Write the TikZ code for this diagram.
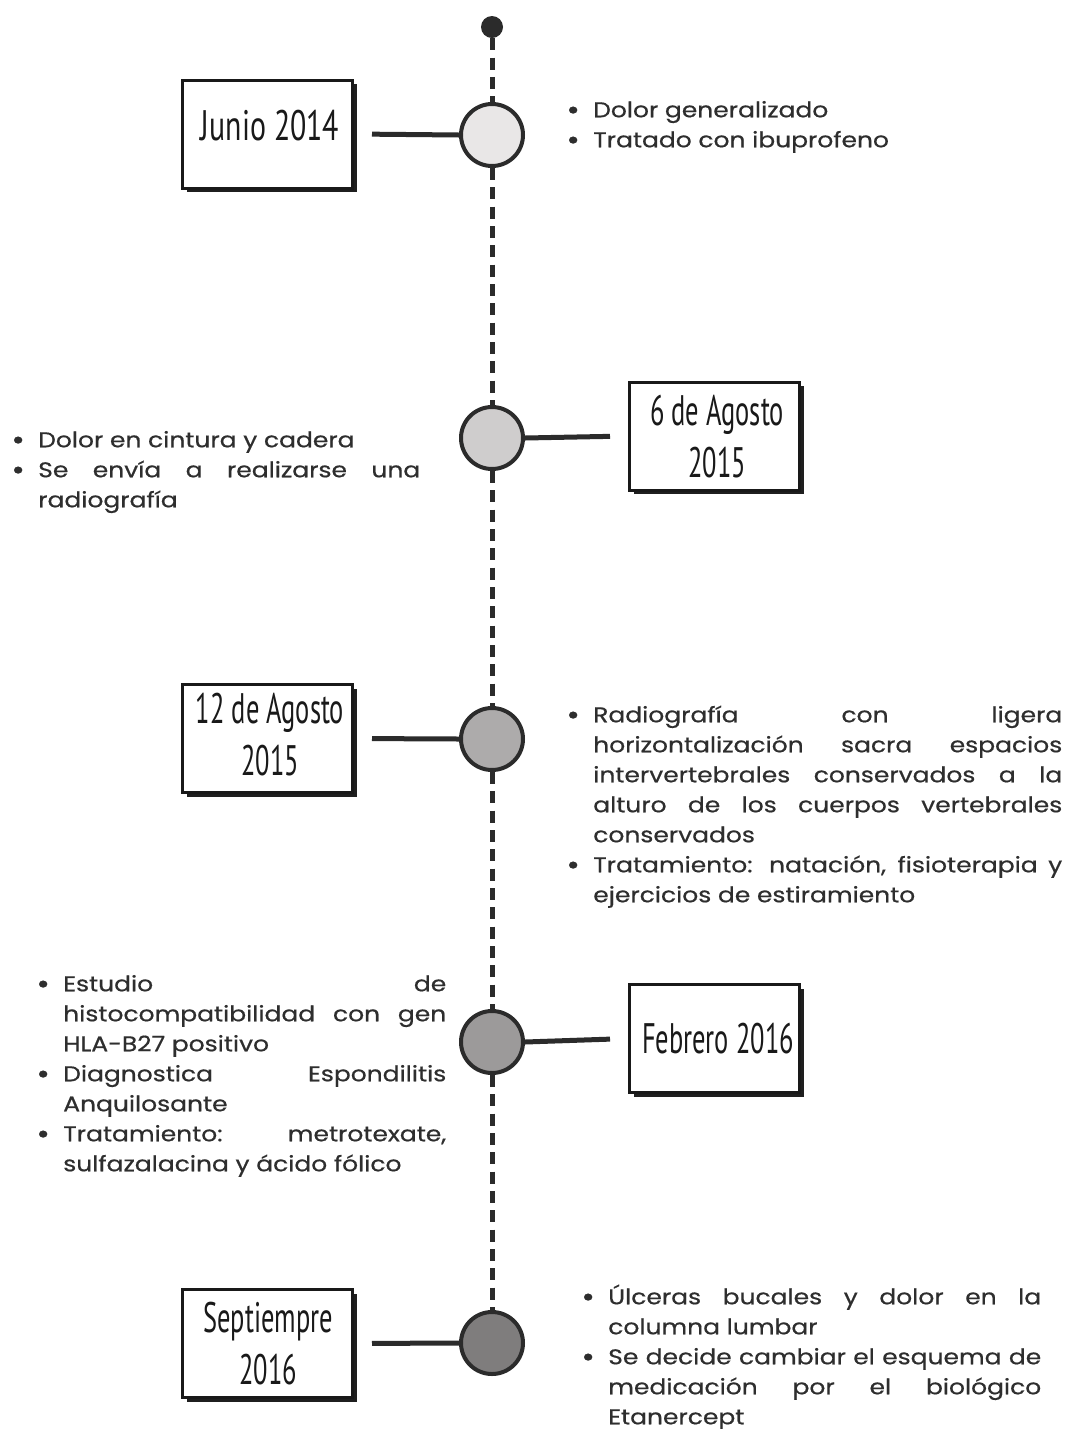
\documentclass[tikz,border=0pt]{standalone}
\usepackage{graphicx}
\usepackage{fontspec}
\setmainfont{Poppins}[FakeStretch=1.17, FakeBold=0.6]
\newfontfamily\datefont{PT Sans}
\usetikzlibrary{shadows}
\definecolor{ink}{HTML}{2B2B2B}
\definecolor{txtc}{HTML}{2E2E2E}
\definecolor{cA}{HTML}{E9E7E7}
\definecolor{cB}{HTML}{CFCDCD}
\definecolor{cC}{HTML}{ADABAB}
\definecolor{cD}{HTML}{9C9A9A}
\definecolor{cE}{HTML}{7F7D7D}
\newcommand\dt[1]{\scalebox{0.62}[1]{#1}}
\newcommand\bu{\llap{\raisebox{-1.6pt}{\fontsize{21}{21}\selectfont\textbullet}\hspace{10pt}}}
\newcommand\JL[2]{\makebox[#1][s]{#2}}
\begin{document}
\begin{tikzpicture}[x=0.75pt,y=-0.75pt,
  conn/.style={line width=3.75pt, draw=ink},
  tline/.style={line width=3.75pt, draw=ink, dash pattern=on 9pt off 5.5pt},
  evt/.style={circle, draw=ink, line width=3pt, minimum size=46.5pt, inner sep=0pt},
  datebox/.style={rectangle, draw=black!90, line width=2.25pt, fill=white,
    minimum width=127.5pt, minimum height=81pt, inner sep=0pt,
    drop shadow={shadow xshift=3pt, shadow yshift=-3pt, opacity=1, fill=black!88}},
  datelbl/.style={font=\datefont\fontsize{32}{39}\selectfont, text=black!90, align=center, inner sep=0pt, anchor=north},
  txt/.style={font=\fontsize{16}{22.5}\selectfont, text=txtc, align=left, inner sep=0pt, anchor=north west}]
\useasboundingbox[fill=white] (0,0) rectangle (1068,1429);

% timeline
\node[circle, fill=ink, minimum size=16.5pt, inner sep=0pt] (top) at (492,27) {};
\node[evt, fill=cA] (c1) at (492,135) {};
\node[evt, fill=cB] (c2) at (492,438) {};
\node[evt, fill=cC] (c3) at (492,739) {};
\node[evt, fill=cD] (c4) at (492,1042) {};
\node[evt, fill=cE] (c5) at (492,1343) {};
\draw[tline] (top) -- (c1);
\draw[tline] (c1) -- (c2);
\draw[tline] (c2) -- (c3);
\draw[tline] (c3) -- (c4);
\draw[tline] (c4) -- (c5);

% date boxes
\node[datebox] (b1) at (267.5,134) {};
\node[datebox] (b2) at (714.5,436) {};
\node[datebox] (b3) at (267.5,738.5) {};
\node[datebox] (b4) at (714.5,1038.5) {};
\node[datebox] (b5) at (267.5,1343.5) {};

\node[datelbl] (l1) at (270,103.6) {\strut\scalebox{0.7}[1]{Junio 2014}};
\node[datelbl] (l2) at (717,388.6) {\strut\dt{6 de Agosto}\\\dt{2015}};
\node[datelbl] (l3) at (270,686.6) {\strut\dt{12 de Agosto}\\\dt{2015}};
\node[datelbl] (l4) at (718,1016.6) {\strut\dt{Febrero 2016}};
\node[datelbl] (l5) at (268,1295.6) {\strut\dt{Septiempre}\\\dt{2016}};

% connectors
\draw[conn, shorten <=13.5pt] (b1.east) -- (c1.west);
\draw[conn, shorten >=13.5pt] (c2.east) -- (b2.west);
\draw[conn, shorten <=13.5pt] (b3.east) -- (c3.west);
\draw[conn, shorten >=13.5pt] (c4.east) -- (b4.west);
\draw[conn, shorten <=13.5pt] (b5.east) -- (c5.west);

% texts
\node[txt] (t1) at (593,96) {\strut\bu Dolor generalizado\\
\bu Tratado con ibuprofeno};

\node[txt] (t2) at (38,426) {\strut\bu Dolor en cintura y cadera\\
\bu\JL{286.5pt}{Se envía a realizarse una}\\
radiografía};

\node[txt] (t3) at (593,701) {\strut\bu\JL{351.75pt}{Radiografía con ligera}\\
\JL{351.75pt}{horizontalización sacra espacios}\\
\JL{351.75pt}{intervertebrales conservados a la}\\
\JL{351.75pt}{alturo de los cuerpos vertebrales}\\
conservados\\
\bu\JL{351.75pt}{Tratamiento: natación, fisioterapia y}\\
ejercicios de estiramiento};

\node[txt] (t4) at (63,970) {\strut\bu\JL{287.25pt}{Estudio de}\\
\JL{287.25pt}{histocompatibilidad con gen}\\
HLA-B27 positivo\\
\bu\JL{287.25pt}{Diagnostica Espondilitis}\\
Anquilosante\\
\bu\JL{287.25pt}{Tratamiento: metrotexate,}\\
sulfazalacina y ácido fólico};

\node[txt] (t5) at (608,1283) {\strut\bu\JL{324.75pt}{Úlceras bucales y dolor en la}\\
columna lumbar\\
\bu\JL{324.75pt}{Se decide cambiar el esquema de}\\
\JL{324.75pt}{medicación por el biológico}\\
Etanercept};
\end{tikzpicture}
\end{document}
